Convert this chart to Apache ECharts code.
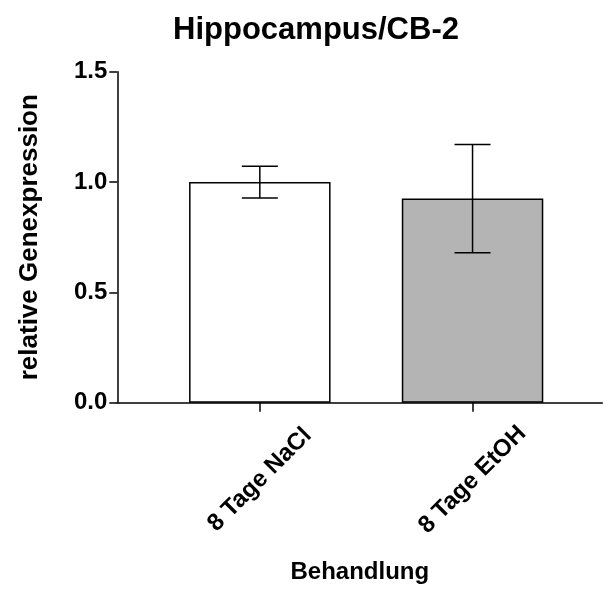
<!DOCTYPE html>
<html><head><meta charset="utf-8">
<script src="https://cdn.jsdelivr.net/npm/echarts@6/dist/echarts.min.js"></script>
<style>html,body{margin:0;padding:0;background:#fff}#c{width:604px;height:614px}</style>
</head><body><div id="c"></div>
<script>
const categories = ['8 Tage NaCl', '8 Tage EtOH'];
const positions = [1, 2];
const means = [1.0, 0.925];
const errors = [0.072, 0.245];
const barColors = ['#ffffff', '#b4b4b4'];
const yTicks = [0, 0.5, 1.0, 1.5];

const FONT = '"Liberation Sans", Arial, Helvetica, sans-serif';
const chart = echarts.init(document.getElementById('c'), null, {renderer: 'canvas'});

const barData = means.map((m, i) => ({value: [positions[i], m], itemStyle: {color: barColors[i]}}));
const errData = means.map((m, i) => [positions[i], m - errors[i], m + errors[i]]);

chart.setOption({
  animation: false,
  backgroundColor: '#fff',
  title: {
    text: 'Hippocampus/CB-2', left: 311, top: 10, textAlign: 'center',
    textStyle: {fontFamily: FONT, fontWeight: 'bold', fontSize: 31, color: '#000'}
  },
  grid: {left: 117.3, top: 71.7, width: 485, height: 331, containLabel: false},
  xAxis: {
    type: 'value', min: 0.33, max: 2.61,
    splitLine: {show: false},
    axisLine: {show: true, onZero: false, lineStyle: {color: '#000', width: 1.5}},
    axisTick: {show: true, length: 9, customValues: positions, lineStyle: {color: '#000', width: 1.5}},
    axisLabel: {
      customValues: positions, rotate: 45, align: 'center', verticalAlign: 'middle', margin: 77,
      formatter: v => categories[positions.indexOf(v)] || '',
      fontFamily: FONT, fontWeight: 'bold', fontSize: 24, color: '#000'
    },
    name: 'Behandlung', nameLocation: 'middle', nameGap: 158,
    nameTextStyle: {fontFamily: FONT, fontWeight: 'bold', fontSize: 24, color: '#000'}
  },
  yAxis: {
    type: 'value', min: 0, max: 1.5, interval: 0.5,
    splitLine: {show: false},
    axisLine: {show: true, lineStyle: {color: '#000', width: 1.5}},
    axisTick: {show: true, length: 8, lineStyle: {color: '#000', width: 1.5}},
    axisLabel: {
      margin: 10, formatter: v => v.toFixed(1),
      fontFamily: FONT, fontWeight: 'bold', fontSize: 24, color: '#000'
    },
    name: 'relative Genexpression', nameLocation: 'middle', nameRotate: 90, nameGap: 74,
    nameTextStyle: {fontFamily: FONT, fontWeight: 'bold', fontSize: 26, color: '#000'}
  },
  series: [
    {
      type: 'bar', data: barData, barWidth: 141.5,
      itemStyle: {borderColor: '#000', borderWidth: 1.5}
    },
    {
      type: 'custom', data: errData, z: 5,
      renderItem: function (params, api) {
        const x = api.value(0);
        const lo = api.coord([x, api.value(1)]);
        const hi = api.coord([x, api.value(2)]);
        const hw = 18;
        const style = {stroke: '#000', lineWidth: 1.5, fill: null};
        return {
          type: 'group', children: [
            {type: 'line', shape: {x1: lo[0], y1: lo[1], x2: hi[0], y2: hi[1]}, style},
            {type: 'line', shape: {x1: lo[0] - hw, y1: lo[1], x2: lo[0] + hw, y2: lo[1]}, style},
            {type: 'line', shape: {x1: hi[0] - hw, y1: hi[1], x2: hi[0] + hw, y2: hi[1]}, style}
          ]
        };
      }
    }
  ]
});
</script></body></html>
